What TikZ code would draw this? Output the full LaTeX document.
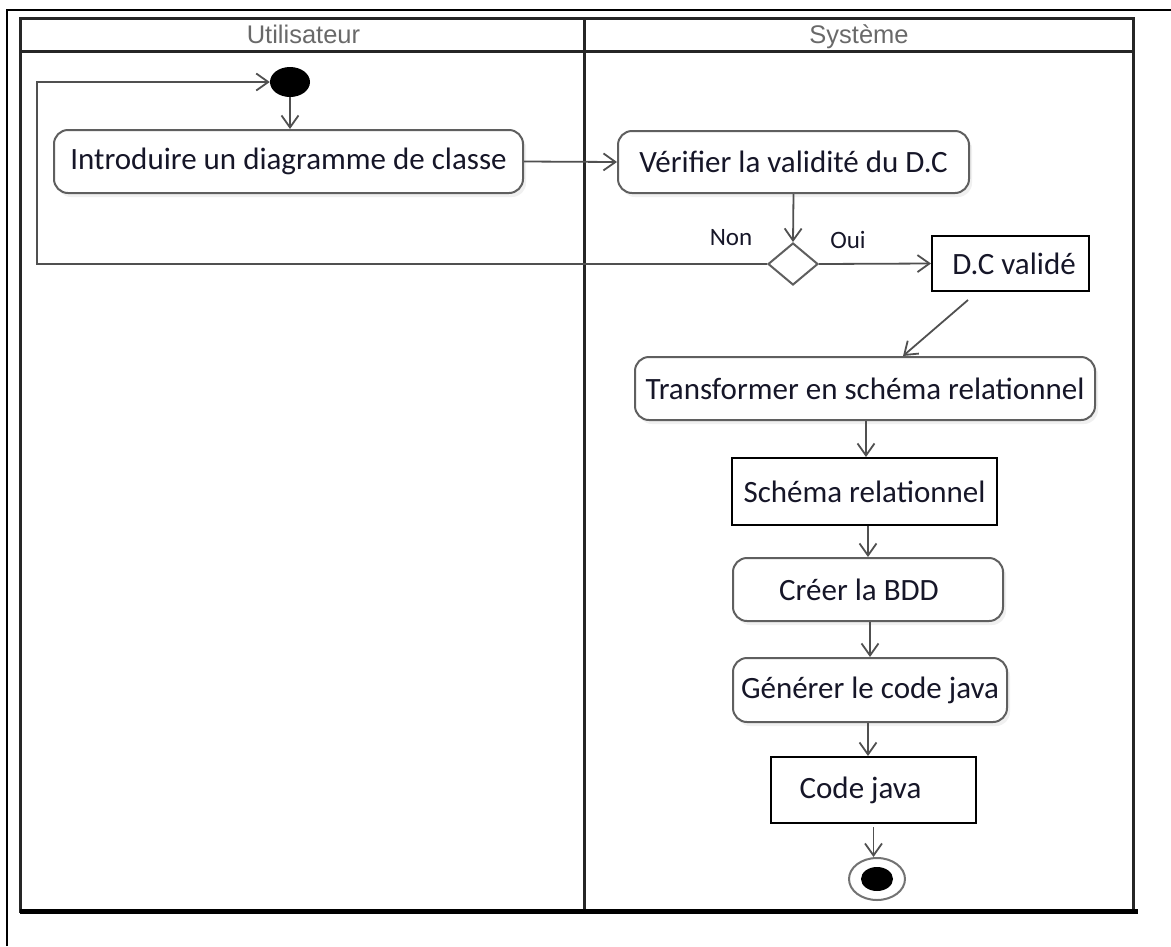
\documentclass[tikz,border=0pt]{standalone}
\usepackage{fontspec}
\setmainfont{Carlito}
\newfontfamily\lanefont{Liberation Sans}
\usetikzlibrary{arrows.meta,shapes.geometric,shadows}

\definecolor{ink}{RGB}{22,22,40}
\definecolor{edge}{RGB}{80,80,80}
\definecolor{rim}{RGB}{95,95,95}
\definecolor{lanegray}{RGB}{105,105,105}

\tikzset{
  actbox/.style={draw=rim, line width=2pt, rounded corners=14pt, fill=white,
    inner sep=0pt, font=\fontsize{31}{36}\selectfont, text=ink,
    drop shadow={shadow xshift=3pt, shadow yshift=-4pt, opacity=0.12}},
  objbox/.style={draw=black, line width=2pt, fill=white, inner sep=0pt,
    font=\fontsize{31}{36}\selectfont, text=ink},
  flow/.style={draw=edge, line width=1.8pt,
    -{Straight Barb[length=12pt,width=17pt,line width=1.8pt]}},
  guard/.style={font=\fontsize{25}{30}\selectfont, text=ink, inner sep=0pt},
  lanehead/.style={font=\lanefont\fontsize{25.5}{30}\selectfont, text=lanegray,
    inner sep=0pt, anchor=base},
  startdot/.style={ellipse, fill=black, minimum width=40pt, minimum height=30pt, inner sep=0pt},
  endring/.style={ellipse, draw=black!55, line width=2pt, fill=white,
    minimum width=56pt, minimum height=42pt, inner sep=0pt},
  enddot/.style={ellipse, fill=black, minimum width=32pt, minimum height=24pt, inner sep=0pt},
  choice/.style={diamond, draw=rim, line width=2pt, fill=white, inner sep=0pt,
    minimum width=50pt, minimum height=42pt},
}

\begin{document}
\begin{tikzpicture}[x=1pt,y=-1pt]
  \useasboundingbox (0,0) rectangle (1171,946);

  % outer frame (open to the right and bottom)
  \draw[line width=2pt] (7,946) -- (7,10) -- (1171,10);

  % swimlanes
  \draw[line width=3pt, draw=black!85] (20,18) rectangle (1133,911);
  \draw[line width=3pt, draw=black!85] (20,51) -- (1133,51);
  \draw[line width=3pt, draw=black!85] (584,18) -- (584,911);
  \draw[line width=5pt] (20,911) -- (1138,911);
  \node[lanehead] (laneU) at (303.5,43) {Utilisateur};
  \node[lanehead] (laneS) at (859,43) {Système};

  % activity nodes
  \node[startdot] (init) at (290,82) {};
  \node[actbox, minimum width=469pt, minimum height=63pt] (intro) at (288.5,161.5)
    {Introduire un diagramme de classe};
  \node[actbox, minimum width=351pt, minimum height=62pt] (verif) at (793.5,162)
    {Vérifier la validité du D.C};
  \node[choice] (dec) at (793,264) {};
  \node[guard] (non) at (731,238) {Non};
  \node[guard] (oui) at (848,240) {Oui};
  \node[objbox, minimum width=157pt, minimum height=55pt] (dcv) at (1010.5,263.5)
    {\hspace*{7pt}D.C validé};
  \node[actbox, minimum width=460pt, minimum height=63pt] (trans) at (865,388.5)
    {Transformer en schéma relationnel};
  \node[objbox, minimum width=265pt, minimum height=67pt] (schema) at (864.5,491.5)
    {Schéma relationnel};
  \node[actbox, minimum width=270pt, minimum height=63pt] (bdd) at (868,589.5)
    {\hspace*{-18pt}Créer la BDD};
  \node[actbox, minimum width=274pt, minimum height=64pt] (gen) at (870,690)
    {Générer le code java};
  \node[objbox, minimum width=205pt, minimum height=66pt] (code) at (873.5,790)
    {\hspace*{-26pt}Code java};
  \node[endring] (fin) at (877,879) {};
  \node[enddot] (finc) at (877,879) {};

  % loop back corner
  \coordinate (lp) at (37,82);

  % control flow
  \draw[flow] (init.south) -- (init.south |- intro.north);
  \draw[flow] (intro.east) -- (verif.west);
  \draw[flow] (verif.south) -- (dec.north);
  \draw[flow] (dec.east) -- (dcv.west);
  \draw[flow] (dec.west) -| (lp) -- (init.west);
  \draw[flow] ([xshift=37pt,yshift=-8pt]dcv.south west) -- ([xshift=38pt]trans.north);
  \draw[flow] ([xshift=1pt]trans.south) -- ([xshift=1pt]trans.south |- schema.north);
  \draw[flow] (bdd.north |- schema.south) -- (bdd.north);
  \draw[flow] (gen.north |- bdd.south) -- (gen.north);
  \draw[flow] ([xshift=-2pt]gen.south) -- ([xshift=-2pt]gen.south |- code.north);
  \draw[flow] ([yshift=-3pt]code.south) -- (code.south |- fin.north);
\end{tikzpicture}
\end{document}
